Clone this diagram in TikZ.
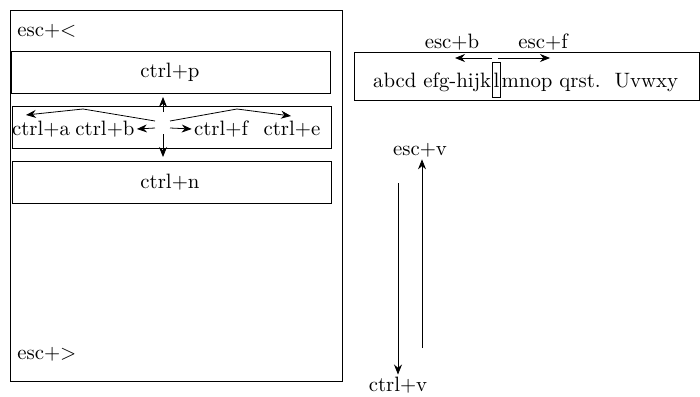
\documentclass[tikz,border=0pt]{standalone}
\usetikzlibrary{arrows.meta}
\begin{document}
\begin{tikzpicture}[x=0.5pt,y=-0.5pt,>={Stealth[length=5pt,width=4pt]},
  key/.style={inner sep=1pt,font=\fontsize{10.4}{13}\selectfont},
  bar/.style={draw,minimum width=159.5pt,minimum height=21pt,inner sep=0pt}]
   \useasboundingbox (0,0) rectangle (700,396);
   % emacs window
   \draw (10,10) rectangle (342,381);
   \node (top) [key,anchor=west] at (15,31) {esc+<};
   \node (bot) [key,anchor=west] at (15,354) {esc+>};
   \node (P) [bar] at (171,72) {};
   \node (Pt) [key] at (170,72) {ctrl+p};
   \node (L) [bar] at (171.5,127.5) {};
   \node (N) [bar] at (171.5,182) {};
   \node (Nt) [key] at (170,182) {ctrl+n};
   \node (A) [key] at (41,129) {ctrl+a};
   \node (B) [key] at (105,129) {ctrl+b};
   \node (F) [key] at (221,129) {ctrl+f};
   \node (E) [key] at (292,129) {ctrl+e};
   \coordinate (cu) at (163,112);
   \coordinate (cd) at (163,134);
   \coordinate (cl) at (155,128);
   \coordinate (cr) at (170,128);
   \coordinate (up) at (163,97);
   \coordinate (dn) at (163,157);
   \coordinate (lb) at (155,121);
   \coordinate (rb) at (170,121);
   \coordinate (la) at (26,115);
   \coordinate (re) at (291,116);

   \draw[->] (cu) -- (up);
   \draw[->] (cd) -- (dn);
   \draw[->] (cl) -- (B.east);
   \draw[->] (cr) -- (F.west);
   \draw[->] (lb) -- (83,109) -- (la);
   \draw[->] (rb) -- (237,109) -- (re);

   % one line of text
   \node (T) [draw,minimum width=172.5pt,minimum height=24pt,inner sep=0pt] at (526.5,76) {};
   \node (Tl) [key,inner sep=0pt,anchor=base east] at (491.5,87) {abcd efg-hijk};
   \node (cur) [key,draw,inner ysep=0pt,inner xsep=0.8pt,text height=12.5pt,text depth=5pt,
     anchor=base west] at (Tl.base east) {l};
   \node (Tr) [key,inner sep=0pt,anchor=base west] at (cur.base east) {mnop qrst.\ \ Uvwxy};
   \node (eb) [key] at (452,42) {esc+b};
   \node (ef) [key] at (543,42) {esc+f};
   \coordinate (cb) at (492,58);
   \coordinate (cf) at (498,58);
   \draw[->] (cb) -- (455,58);
   \draw[->] (cf) -- (550,58);

   % page up / down
   \node (ev) [key] at (420,150) {esc+v};
   \node (cv) [key] at (398,385) {ctrl+v};
   \coordinate (dtop) at (398,183);
   \coordinate (ubot) at (422,348);
   \draw[->] (dtop) -- (cv.north);
   \draw[->] (ubot) -- (ev.south -| ubot);
\end{tikzpicture}
\end{document}
